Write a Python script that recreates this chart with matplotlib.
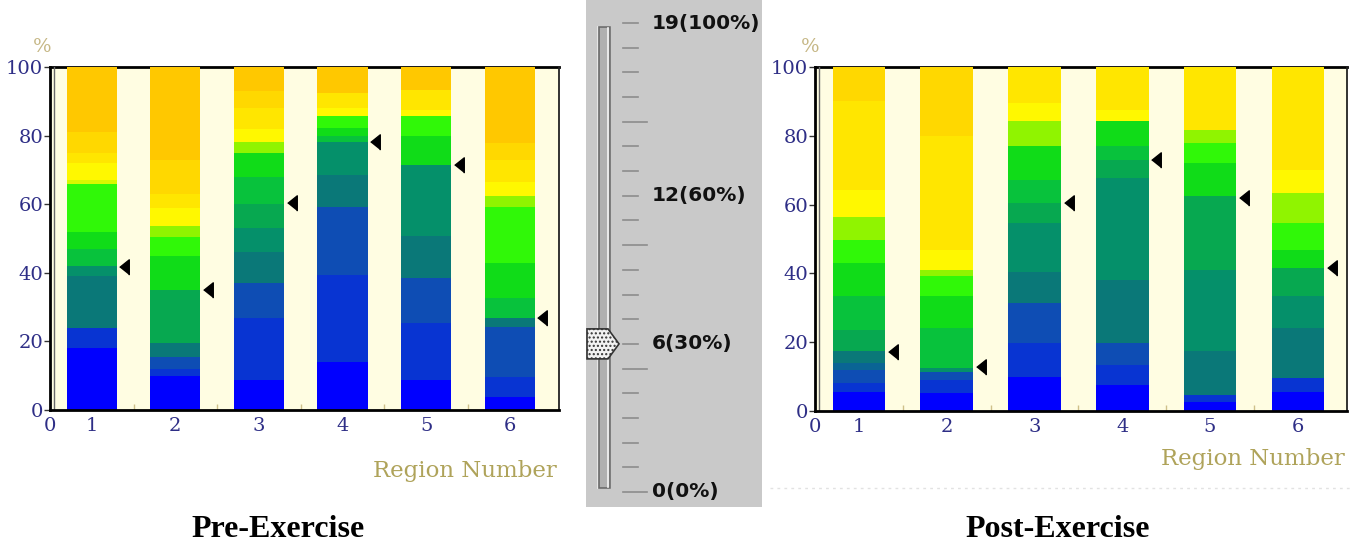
import matplotlib
matplotlib.use("Agg")
import matplotlib.pyplot as plt
import numpy as np
from matplotlib.patches import Polygon, Rectangle
from matplotlib.transforms import ScaledTranslation
from matplotlib.lines import Line2D

# ---------------- data ----------------
regions = [1, 2, 3, 4, 5, 6]
x_tick_labels = ["0", "1", "2", "3", "4", "5", "6"]
y_ticks = [0, 20, 40, 60, 80, 100]

# colour levels (bottom -> top)
palette = ["#0000FF", "#0834D2", "#0E4DB4", "#0A6494", "#0A7878", "#05906A",
           "#07A850", "#08C23C", "#10DC18", "#30F808", "#90F400", "#D8F800",
           "#FFF800", "#FFE600", "#FFD800", "#FFC800"]

# percentage of each colour level per region
pre_levels = [
    [18, 6, 0, 0, 15, 3, 0, 5, 5, 14, 0, 1, 5, 3, 6, 19],
    [10, 2, 3.5, 0, 4, 0, 15.5, 0, 10, 5.5, 3, 0, 5.5, 4, 10, 27],
    [8.8, 18, 10.2, 0, 9, 7, 7, 8, 7, 0, 3, 0, 4, 6, 5, 7],
    [14, 25.4, 19.9, 0, 9.3, 9.4, 0, 1.8, 2.4, 3.4, 0, 0, 2.4, 4.4, 0, 7.6],
    [8.8, 16.5, 13.1, 0, 12.2, 20.9, 0, 0, 8.3, 5.8, 0, 0, 1.9, 5.9, 0, 6.6],
    [3.9, 5.8, 14.6, 0, 2.5, 0, 0, 5.8, 10.2, 16.5, 3, 0, 4.3, 6.4, 4.8, 22.2],
]
post_levels = [
    [5.6, 2.4, 3.9, 2, 3.4, 0, 6.3, 9.7, 9.7, 6.8, 6.7, 0, 7.8, 25.7, 10, 0],
    [5.1, 3.9, 2.4, 0, 0, 1, 0, 11.6, 9.3, 5.8, 1.9, 0, 5.8, 33.2, 20, 0],
    [10, 9.7, 11.6, 0, 9.2, 14.1, 5.8, 6.8, 9.7, 0, 7.3, 0, 5.3, 10.5, 0, 0],
    [7.6, 5.8, 6.3, 0, 18.4, 29.6, 5.3, 3.9, 7.3, 0, 0, 0, 3.4, 12.4, 0, 0],
    [2.7, 2, 0, 0, 12.6, 23.7, 21.4, 0, 9.7, 5.8, 3.9, 0, 0, 18.2, 0, 0],
    [5.6, 3.9, 0, 0, 14.5, 9.3, 8.2, 0, 5.3, 7.8, 8.8, 0, 6.7, 29.9, 0, 0],
]
pre_markers = [41.7, 35.0, 60.3, 78.1, 71.4, 26.8]
post_markers = [17.2, 12.8, 60.5, 73.0, 62.0, 41.6]

panel_titles = ["Pre-Exercise", "Post-Exercise"]
x_label = "Region Number"
y_label = "%"

slider_max = 19
slider_value = 6
slider_label_steps = [19, 12, 6, 0]
slider_label_texts = ["19(100%)", "12(60%)", "6(30%)", "0(0%)"]

# ---------------- figure ----------------
plt.rcParams["hatch.color"] = "#9A9A9A"
W, H = 1351, 545
fig = plt.figure(figsize=(W / 100, H / 100), dpi=100)
fig.patch.set_facecolor("white")


def px_axes(x0, y0, x1, y1):
    return fig.add_axes([x0 / W, 1 - y1 / H, (x1 - x0) / W, (y1 - y0) / H])


TICK_COLOR = "#2E2E86"
LABEL_COLOR = "#AFA35A"
tri = [(-1, 0), (1, 1.6), (1, -1.6)]


def draw_panel(ax, levels, markers, xmax):
    ax.set_facecolor("#FFFDE2")
    x = np.array(regions, dtype=float)
    lv = np.array(levels, dtype=float)
    bottoms = np.zeros(len(regions))
    for k, c in enumerate(palette):
        h = lv[:, k]
        ax.bar(x, h, bottom=bottoms, width=0.6, color=c, linewidth=0, zorder=2)
        bottoms += h
    ax.plot(x + 0.39, markers, linestyle="none", marker=tri, markersize=11,
            color="black", zorder=5, clip_on=False)
    ax.set_xlim(0.5, xmax)
    ax.set_ylim(0, 100)
    ax.set_xticks([0.5] + regions)
    ax.set_xticklabels(x_tick_labels)
    ax.set_yticks(y_ticks)
    ax.set_xticks([r + 0.5 for r in regions[:-1]], minor=True)
    ax.tick_params(axis="x", which="major", length=0, pad=5, labelsize=14,
                   labelcolor=TICK_COLOR)
    ax.tick_params(axis="x", which="minor", direction="in", length=4,
                   color="#CFC08A", width=1)
    ax.tick_params(axis="y", which="major", direction="out", length=4,
                   width=1, color="#333333", pad=1, labelsize=14,
                   labelcolor=TICK_COLOR)
    for lab in ax.get_xticklabels() + ax.get_yticklabels():
        lab.set_family("DejaVu Serif")
    for s in ["left", "bottom"]:
        ax.spines[s].set_linewidth(2.0)
        ax.spines[s].set_color("black")
        ax.spines[s].set_zorder(6)
    ax.spines["right"].set_linewidth(1.3)
    ax.spines["right"].set_color("#222222")
    ax.spines["top"].set_linewidth(2.0)
    ax.spines["top"].set_color("black")
    ax.spines["top"].set_zorder(1)
    # inner second line of the left axis
    trans = ax.transAxes + ScaledTranslation(4 / 100, 0, fig.dpi_scale_trans)
    ax.plot([0, 0], [0, 1], transform=trans, color="#6A6A6A", lw=1.0, zorder=6)


ax1 = px_axes(50, 67, 559, 410)
draw_panel(ax1, pre_levels, pre_markers, 6.59)
ax2 = px_axes(815, 67, 1347, 411)
draw_panel(ax2, post_levels, post_markers, 6.56)

# axis captions
fig.text(42 / W, 1 - 47 / H, y_label, color="#C6B785", fontsize=14,
         family="DejaVu Serif", ha="center", va="center")
fig.text(810 / W, 1 - 47 / H, y_label, color="#C6B785", fontsize=14,
         family="DejaVu Serif", ha="center", va="center")
fig.text(557 / W, 1 - 477 / H, x_label, color=LABEL_COLOR, fontsize=16.5,
         family="DejaVu Serif", ha="right", va="baseline")
fig.text(1345 / W, 1 - 465 / H, x_label, color=LABEL_COLOR, fontsize=16.5,
         family="DejaVu Serif", ha="right", va="baseline")

# titles
fig.text(278 / W, 1 - 537 / H, panel_titles[0], fontsize=23, weight="bold",
         family="Liberation Serif", ha="center", va="baseline")
fig.text(1058 / W, 1 - 537 / H, panel_titles[1], fontsize=23, weight="bold",
         family="Liberation Serif", ha="center", va="baseline")

# faint dotted line under right panel
fig.add_artist(Line2D([770 / W, 1.0], [1 - 488 / H, 1 - 488 / H],
                      transform=fig.transFigure, color="#E2E2E2", lw=1,
                      linestyle=(0, (2, 3))))

# ---------------- slider ----------------
sax = px_axes(586, 0, 762, 507)
sax.set_facecolor("#C9C9C9")
step_px = (492 - 23) / slider_max
sax.set_xlim(0, 176)
sax.set_ylim(-(507 - 492) / step_px, 492 / step_px)
sax.set_xticks([])
sax.set_yticks([])
for s in sax.spines.values():
    s.set_visible(False)

# track
y_lo = (492 - 488) / step_px
y_hi = (492 - 27) / step_px
sax.add_patch(Rectangle((11, y_lo - 0.05), 14, y_hi - y_lo + 0.1,
                        facecolor="#E6E6E6", edgecolor="none", zorder=1))
sax.add_patch(Rectangle((12.5, y_lo), 11, y_hi - y_lo,
                        facecolor="#B0B0B0", edgecolor="#6A6A6A", lw=1.2, zorder=2))
sax.plot([21.5, 21.5], [y_lo + 0.05, y_hi - 0.05], color="#F4F4F4", lw=1.2, zorder=3)

# tick marks
for st in range(slider_max + 1):
    x_end = 61 if st % 5 == 0 else 52
    sax.plot([37, x_end], [st, st], color="#8C8C8C", lw=1.2, zorder=2)

# labels
for st, txt in zip(slider_label_steps, slider_label_texts):
    sax.text(66, st, txt, fontsize=14.5, weight="bold", family="DejaVu Sans",
             ha="left", va="center", color="#111111", zorder=4)

# thumb
hh = 15 / step_px
thumb = Polygon([(1, slider_value + hh), (22, slider_value + hh),
                 (33, slider_value), (22, slider_value - hh),
                 (1, slider_value - hh)], closed=True,
                facecolor="#F2F2F2", edgecolor="#333333", lw=1.2,
                hatch="....", zorder=5)
sax.add_patch(thumb)

fig.savefig("out.png", dpi=100, facecolor="white")
